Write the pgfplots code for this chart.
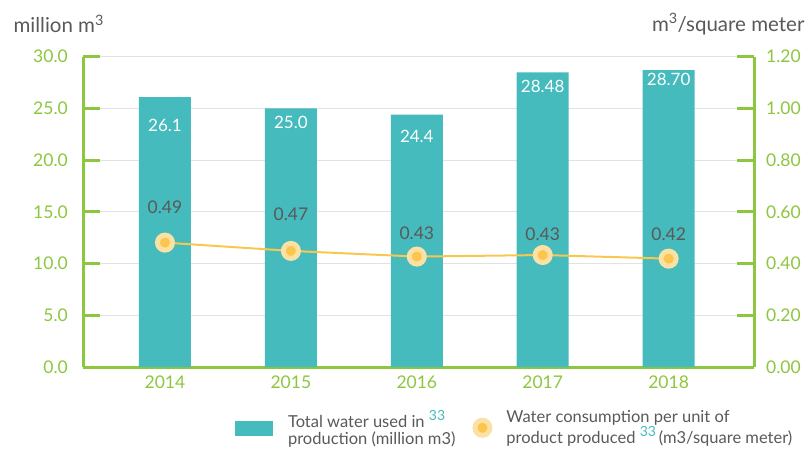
\documentclass[border=0pt]{standalone}
\usepackage{pgfplots}
\pgfplotsset{compat=1.18}
\usepackage{fontspec}
\setmainfont{Lato}
\definecolor{barcol}{HTML}{45BBBD}
\definecolor{axgreen}{HTML}{8DC63F}
\definecolor{txtgray}{HTML}{595959}
\definecolor{linecol}{HTML}{F9C74F}
\definecolor{markouter}{HTML}{FBE2A4}
\definecolor{markinner}{HTML}{FDC44E}
\definecolor{gridgray}{HTML}{E2E2E2}
\newcommand{\supref}{\raisebox{0.42em}{\textcolor{barcol}{\fontsize{14}{14}\selectfont 33}}}

\pgfplotstableread{
x y
0 26.1
1 25.0
2 24.4
3 28.48
4 28.70
}\bardata
\pgfplotstableread{
x y label
0 23.40 26.1
1 23.66 25.0
2 22.27 24.4
3 27.10 28.48
4 27.85 28.70
}\barlabels
\pgfplotstableread{
x y
0 0.481
1 0.449
2 0.427
3 0.433
4 0.419
}\linedata
\pgfplotstableread{
x y label
0 0.618 0.49
1 0.590 0.47
2 0.517 0.43
3 0.514 0.43
4 0.514 0.42
}\linelabels

\begin{document}
\begin{tikzpicture}[x=1pt,y=1pt]
\useasboundingbox (0,0) rectangle (810,450);
\begin{axis}[
  at={(83pt,83pt)}, anchor=south west,
  scale only axis, width=671pt, height=310.3pt,
  xmin=-0.651, xmax=4.678, ymin=0, ymax=30,
  axis lines*=left,
  axis line style={draw=axgreen, line width=3pt},
  xtick={0,1,2,3,4}, xticklabels={2014,2015,2016,2017,2018},
  xtick style={draw=none},
  ytick={0,5,10,15,20,25,30},
  ytick style={draw=axgreen, line width=3pt},
  major tick length=17pt, tick align=inside,
  ymajorgrids, grid style={draw=gridgray, line width=1pt},
  /pgf/number format/assume math mode=true,
  yticklabel={\pgfmathprintnumber[fixed,fixed zerofill,precision=1]{\tick}},
  ticklabel style={font=\fontsize{17.5}{17.5}\selectfont, text=axgreen},
  yticklabel style={anchor=east, inner sep=0pt, xshift=-15pt},
  xticklabel style={anchor=north, inner sep=0pt, yshift=-9pt},
  clip=false,
]
\addplot[ybar, bar width=52pt, fill=barcol, draw=none] table[x=x,y=y] {\bardata};
\addplot[draw=none, mark=none, nodes near coords, point meta=explicit symbolic,
  every node near coord/.style={anchor=center, text=white, inner sep=0pt,
  font=\fontsize{17}{17}\selectfont}] table[x=x,y=y,meta=label] {\barlabels};
\end{axis}
\begin{axis}[
  at={(83pt,83pt)}, anchor=south west,
  scale only axis, width=671pt, height=310.3pt,
  xmin=-0.651, xmax=4.678, ymin=0, ymax=1.2,
  axis x line=none, axis y line*=right,
  axis line style={draw=axgreen, line width=3pt},
  ytick={0,0.2,0.4,0.6,0.8,1.0,1.2},
  ytick style={draw=axgreen, line width=3pt},
  major tick length=17pt, tick align=inside,
  /pgf/number format/assume math mode=true,
  yticklabel={\pgfmathprintnumber[fixed,fixed zerofill,precision=2]{\tick}},
  ticklabel style={font=\fontsize{17.5}{17.5}\selectfont, text=axgreen},
  yticklabel style={anchor=west, inner sep=0pt, xshift=12pt},
  clip=false,
  legend columns=2,
  legend style={at={(0.2215,-0.125)}, anchor=north west, draw=none, fill=none,
    font=\fontsize{16.5}{17}\selectfont, text=txtgray,
    cells={align=left, anchor=west},
    /tikz/every even column/.append style={column sep=13pt}},
]
\addlegendimage{legend image code/.code={\fill[barcol] (0pt,-7pt) rectangle (37pt,7pt); \path[draw=none,fill=none] (0pt,0pt) -- (51pt,0pt);}}
\addlegendentry{Total water used in \supref\\production (million m3)}
\addplot[color=linecol, line width=2pt, mark=*, mark size=7.5pt,
  mark options={draw=markouter, fill=markinner, line width=5pt},
  legend image code/.code={\draw[draw=markouter, fill=markinner, line width=5pt] (12pt,0pt) circle (7.5pt); \path[draw=none,fill=none] (0pt,0pt) -- (34pt,0pt);}]
  table[x=x,y=y] {\linedata};
\addlegendentry{Water consumption per unit of\\product produced \supref\,(m3/square meter)}
\addplot[draw=none, mark=none, nodes near coords, point meta=explicit symbolic,
  every node near coord/.style={anchor=center, text=txtgray, inner sep=0pt,
  font=\fontsize{17.5}{17.5}\selectfont}, forget plot] table[x=x,y=y,meta=label] {\linelabels};
\end{axis}
\node[anchor=west, text=txtgray, font=\fontsize{20.5}{20.5}\selectfont] at (10,426) {million m\textsuperscript{3}};
\node[anchor=east, text=txtgray, font=\fontsize{20.5}{20.5}\selectfont] at (808,426) {m\textsuperscript{3}/square meter};
\end{tikzpicture}
\end{document}
